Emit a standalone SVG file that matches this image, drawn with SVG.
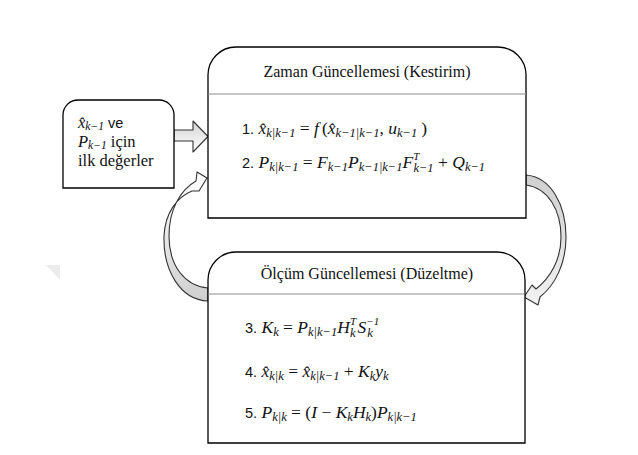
<svg xmlns="http://www.w3.org/2000/svg" width="638" height="455" viewBox="0 0 638 455">
<defs>
<linearGradient id="gBlock" x1="0" y1="0" x2="0" y2="1"><stop offset="0" stop-color="#d4d4d4"/><stop offset="1" stop-color="#ffffff"/></linearGradient>
<linearGradient id="gLeft" x1="0" y1="1" x2="0" y2="0"><stop offset="0" stop-color="#cfcfcf"/><stop offset="1" stop-color="#ffffff"/></linearGradient>
<linearGradient id="gRight" x1="0" y1="0" x2="0" y2="1"><stop offset="0" stop-color="#cfcfcf"/><stop offset="1" stop-color="#f2f2f2"/></linearGradient>
</defs>
<style>
.box{fill:#fff;stroke:#000;stroke-width:1.3}
.sep{stroke:#8c8c8c;stroke-width:1.2;fill:none}
.arr{stroke:#333;stroke-width:1.1;stroke-linejoin:round}
.t{font-family:"Liberation Serif","Times New Roman",serif;font-size:16px;fill:#111}
.m{font-family:"Liberation Serif","Times New Roman",serif;font-size:17.5px;fill:#111}
.l{font-family:"Liberation Serif","Times New Roman",serif;font-size:16.5px;fill:#111}
.i{font-style:italic}
.n{font-family:"Liberation Sans",Arial,sans-serif;font-size:14.5px;font-style:normal}
.s{font-size:12.5px;font-style:italic}
.q{font-size:11.5px;font-style:italic}
.p{font-size:11px;font-style:italic}
</style>
<rect width="638" height="455" fill="#fff"/>
<polygon points="46,265 60,265 60,280" fill="#ececec"/>
<g id="connectors">
<path class="arr" fill="url(#gBlock)" d="M174,130 H193 V121 L208,136.5 L193,152 V141 H174 Z"/>
<path class="arr" fill="url(#gLeft)" d="M208,301 C180,300 163,270 164,236 C165,213 177,197 192,191 L199,191 L207,178 L197,172 L196,181 C180,190 169,210 169,236 C169,266 185,286 208,288 Z"/>
<path class="arr" fill="url(#gRight)" d="M526,175 C551,177 566,205 566,237 C566,264 555,285 540,297 L538,305 L524,297 L532,285 L536,289 C550,278 561,260 561,237 C561,210 548,188 526,185 Z"/>
</g>
<g id="init">
<path class="box" d="M63,188 V115 A15,15 0 0 1 78,100 H159 A15,15 0 0 1 174,115 V188 Z"/>
<text class="l" x="78" y="128"><tspan class="i">x̂</tspan><tspan class="q" dy="2">k−1</tspan><tspan dy="-2" class="n" font-size="16"> ve</tspan></text>
<text class="l" x="78" y="147"><tspan class="i">P</tspan><tspan class="q" dy="2">k−1</tspan><tspan dy="-2"> için</tspan></text>
<text class="l" x="78" y="166">ilk değerler</text>
</g>
<g id="time-update">
<path class="box" d="M208,218 V75 A28,28 0 0 1 236,47 H498 A28,28 0 0 1 526,75 V218 Z"/>
<path class="sep" d="M208,94 H526"/>
<text class="t" x="367" y="77" text-anchor="middle">Zaman Güncellemesi (Kestirim)</text>
<text class="m" x="242" y="134"><tspan class="n">1.</tspan>  <tspan class="i">x̂</tspan><tspan class="s" dy="3">k|k−1</tspan><tspan dy="-3"> = </tspan><tspan class="i">f</tspan><tspan dx="3">(</tspan><tspan class="i">x̂</tspan><tspan class="s" dy="3">k−1|k−1</tspan><tspan dy="-3">, </tspan><tspan class="i">u</tspan><tspan class="s" dy="3">k−1</tspan><tspan dy="-3" dx="4">)</tspan></text>
<text class="m" x="242" y="168"><tspan class="n">2.</tspan>  <tspan class="i">P</tspan><tspan class="s" dy="3">k|k−1</tspan><tspan dy="-3"> = </tspan><tspan class="i">F</tspan><tspan class="s" dy="3">k−1</tspan><tspan class="i" dy="-3">P</tspan><tspan class="s" dy="3">k−1|k−1</tspan><tspan class="i" dy="-3">F</tspan><tspan class="p" dy="-8">T</tspan><tspan class="s" dx="-6" dy="12">k−1</tspan><tspan dy="-4"> + </tspan><tspan class="i">Q</tspan><tspan class="s" dy="3">k−1</tspan></text>
</g>
<g id="measurement-update">
<path class="box" d="M208,443 V280 A28,28 0 0 1 236,252 H497 A28,28 0 0 1 525,280 V443 Z"/>
<path class="sep" d="M208,294 H525"/>
<text class="t" x="367" y="279" text-anchor="middle">Ölçüm Güncellemesi (Düzeltme)</text>
<text class="m" x="245" y="333"><tspan class="n">3.</tspan>  <tspan class="i">K</tspan><tspan class="s" dy="3">k</tspan><tspan dy="-3"> = </tspan><tspan class="i">P</tspan><tspan class="s" dy="3">k|k−1</tspan><tspan class="i" dy="-3">H</tspan><tspan class="p" dy="-8">T</tspan><tspan class="s" dx="-6" dy="12">k</tspan><tspan class="i" dy="-4" dx="2">S</tspan><tspan class="p" dy="-8">−1</tspan><tspan class="s" dx="-12" dy="12">k</tspan></text>
<text class="m" x="245" y="377"><tspan class="n">4.</tspan>  <tspan class="i">x̂</tspan><tspan class="s" dy="3">k|k</tspan><tspan dy="-3"> = </tspan><tspan class="i">x̂</tspan><tspan class="s" dy="3">k|k−1</tspan><tspan dy="-3"> + </tspan><tspan class="i">K</tspan><tspan class="s" dy="3">k</tspan><tspan class="i" dy="-3">y</tspan><tspan class="s" dy="3">k</tspan></text>
<text class="m" x="245" y="418"><tspan class="n">5.</tspan>  <tspan class="i">P</tspan><tspan class="s" dy="3">k|k</tspan><tspan dy="-3"> = (</tspan><tspan class="i">I</tspan> − <tspan class="i">K</tspan><tspan class="s" dy="3">k</tspan><tspan class="i" dy="-3">H</tspan><tspan class="s" dy="3">k</tspan><tspan dy="-3">)</tspan><tspan class="i">P</tspan><tspan class="s" dy="3">k|k−1</tspan></text>
</g>
</svg>
